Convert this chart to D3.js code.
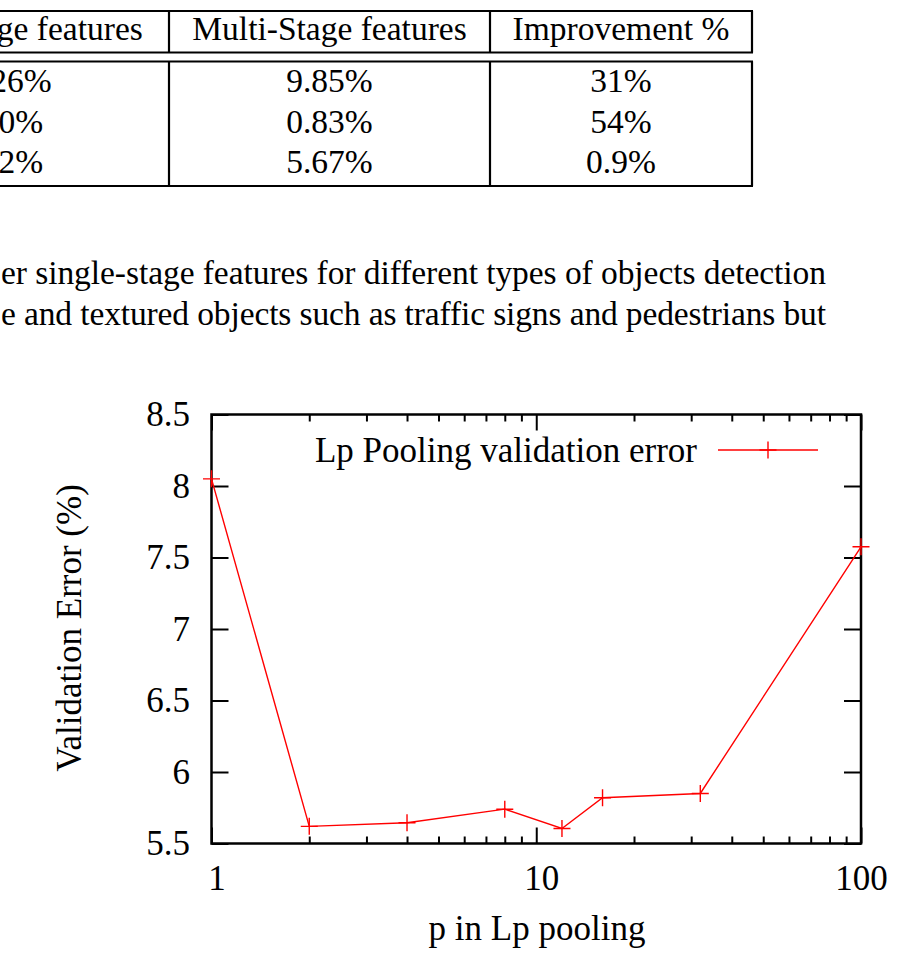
<!DOCTYPE html>
<html>
  <head>
    <meta charset="utf-8" />
    <title>Lp Pooling validation error</title>
    <script src="https://cdn.jsdelivr.net/npm/d3@7"></script>
    <style type="text/css">
      html, body { margin: 0; padding: 0; background: #fff; }
    </style>
  </head>
  <body>
    <svg id="page"></svg>
    <script>
      // table (clipped at left edge, like the page crop)
      const tableHeader = ["Single-Stage features", "Multi-Stage features", "Improvement %"]
      const singleStage = ["14.26%", "1.80%", "5.72%"]
      const multiStage = ["9.85%", "0.83%", "5.67%"]
      const improvement = ["31%", "54%", "0.9%"]

      // running text under the table
      const bodyLines = [
        "er single-stage features for different types of objects detection",
        "e and textured objects such as traffic signs and pedestrians but"
      ]

      // chart
      const seriesName = "Lp Pooling validation error"
      const pValues = [1, 2, 4, 8, 12, 16, 32, 100]
      const valError = [8.05, 5.62, 5.645, 5.74, 5.605, 5.82, 5.85, 7.575]
      const yTicks = [5.5, 6, 6.5, 7, 7.5, 8, 8.5]
      const xMajorTicks = [1, 10, 100]
      const xMinorTicks = [2, 3, 4, 5, 6, 7, 8, 9, 20, 30, 40, 50, 60, 70, 80, 90]
      const xLabel = "p in Lp pooling"
      const yLabel = "Validation Error (%)"

      const width = 900
      const height = 960
      const plot = {left: 211.5, right: 861, top: 414.5, bottom: 843.5}
      const serif = "'Liberation Serif', serif"
      const fontSize = 35
      const docSize = 33.5

      const svg = d3.select("#page")
        .attr("width", width)
        .attr("height", height)
        .attr("viewBox", [0, 0, width, height])
        .attr("font-family", serif)
        .style("display", "block")

      svg.append("rect").attr("width", width).attr("height", height).attr("fill", "#fff")

      const serifText = (sel, size) => sel
        .attr("fill", "#000")
        .attr("font-family", serif)
        .attr("font-size", size)

      // ---- table ----
      const table = svg.append("g")
      const colEdges = [169, 490, 752]
      const colCenters = [0, 329.5, 621]
      const hLines = [11, 52.5, 61.5, 186]
      const rowBase = [92, 132.5, 173]

      table.append("g").selectAll("line")
        .data(hLines)
        .join("line")
          .attr("x1", -5).attr("x2", colEdges[2] + 1)
          .attr("y1", d => d).attr("y2", d => d)
          .attr("stroke", "#000").attr("stroke-width", 2.2)

      const vSegs = colEdges.flatMap(x => [[x, hLines[0], hLines[1]], [x, hLines[2], hLines[3]]])
      table.append("g").selectAll("line")
        .data(vSegs)
        .join("line")
          .attr("x1", d => d[0]).attr("x2", d => d[0])
          .attr("y1", d => d[1]).attr("y2", d => d[2])
          .attr("stroke", "#000").attr("stroke-width", 2.2)

      const tableText = table.append("g")
        .attr("text-anchor", "middle")

      tableHeader.forEach((t, i) => {
        tableText.append("text")
          .attr("x", colCenters[i])
          .attr("y", 40)
          .call(serifText, docSize)
          .text(t)
      })

      ;[singleStage, multiStage, improvement].forEach((col, ci) => {
        col.forEach((t, ri) => {
          tableText.append("text")
            .attr("x", colCenters[ci])
            .attr("y", rowBase[ri])
            .call(serifText, docSize)
            .text(t)
        })
      })

      // ---- body text ----
      bodyLines.forEach((t, i) => {
        svg.append("text")
          .attr("x", 1)
          .attr("y", 283.5 + i * 41.5)
          .attr("textLength", 825)
          .attr("lengthAdjust", "spacing")
          .call(serifText, docSize)
          .text(t)
      })

      // ---- chart ----
      const x = d3.scaleLog()
        .domain([1, 100])
        .range([plot.left, plot.right])

      const y = d3.scaleLinear()
        .domain([5.5, 8.5])
        .range([plot.bottom, plot.top])

      const chart = svg.append("g")

      const styleAxis = g => {
        g.attr("font-family", serif)
        g.selectAll(".domain").remove()
        g.selectAll(".tick line").attr("stroke", "#000").attr("stroke-width", 2)
        g.selectAll(".tick text").call(serifText, fontSize)
      }

      // bottom: minor + major ticks, pointing inward
      chart.append("g")
        .attr("transform", `translate(0,${plot.bottom})`)
        .call(d3.axisBottom(x).tickValues(xMinorTicks).tickSize(-7).tickFormat(""))
        .call(styleAxis)
      chart.append("g")
        .attr("transform", `translate(0,${plot.bottom})`)
        .call(d3.axisBottom(x).tickValues(xMajorTicks).tickSize(-16).tickPadding(22).tickFormat(d3.format("d")))
        .call(styleAxis)
        .call(g => g.selectAll(".tick text").attr("dx", d => d < 100 ? 5 : 0))

      // top mirror ticks
      chart.append("g")
        .attr("transform", `translate(0,${plot.top})`)
        .call(d3.axisTop(x).tickValues(xMinorTicks).tickSize(-7).tickFormat(""))
        .call(styleAxis)
      chart.append("g")
        .attr("transform", `translate(0,${plot.top})`)
        .call(d3.axisTop(x).tickValues(xMajorTicks).tickSize(-16).tickFormat(""))
        .call(styleAxis)

      // left axis with labels, right mirror
      chart.append("g")
        .attr("transform", `translate(${plot.left},0)`)
        .call(d3.axisLeft(y).tickValues(yTicks).tickSize(-17).tickPadding(21.5).tickFormat(d3.format("")))
        .call(styleAxis)
      chart.append("g")
        .attr("transform", `translate(${plot.right},0)`)
        .call(d3.axisRight(y).tickValues(yTicks).tickSize(-17).tickFormat(""))
        .call(styleAxis)

      // frame
      chart.append("rect")
        .attr("x", plot.left)
        .attr("y", plot.top)
        .attr("width", plot.right - plot.left)
        .attr("height", plot.bottom - plot.top)
        .attr("fill", "none")
        .attr("stroke", "#000")
        .attr("stroke-width", 2.5)

      // series
      const data = pValues.map((p, i) => ({p: p, v: valError[i]}))
      const red = "#ff0000"
      const arm = 8.5

      chart.append("path")
        .datum(data)
        .attr("fill", "none")
        .attr("stroke", red)
        .attr("stroke-width", 1.4)
        .attr("d", d3.line().x(d => x(d.p)).y(d => y(d.v)))

      const plus = (sel) => sel
        .attr("fill", "none")
        .attr("stroke", red)
        .attr("stroke-width", 1.4)
        .attr("d", `M${-arm},0H${arm}M0,${-arm}V${arm}`)

      chart.append("g")
        .selectAll("path")
        .data(data)
        .join("path")
          .attr("transform", d => `translate(${x(d.p)},${y(d.v)})`)
          .call(plus)

      // legend
      const legendY = 450
      chart.append("text")
        .attr("x", 697)
        .attr("y", legendY + 11.5)
        .attr("text-anchor", "end")
        .call(serifText, fontSize)
        .text(seriesName)
      chart.append("line")
        .attr("x1", 718).attr("x2", 818)
        .attr("y1", legendY).attr("y2", legendY)
        .attr("stroke", red).attr("stroke-width", 1.4)
      chart.append("path")
        .attr("transform", `translate(768,${legendY})`)
        .call(plus)

      // axis titles
      chart.append("text")
        .attr("x", 537)
        .attr("y", 940)
        .attr("text-anchor", "middle")
        .call(serifText, fontSize)
        .text(xLabel)

      chart.append("text")
        .attr("transform", `translate(81,628) rotate(-90)`)
        .attr("text-anchor", "middle")
        .call(serifText, fontSize)
        .text(yLabel)
    </script>
  </body>
</html>
